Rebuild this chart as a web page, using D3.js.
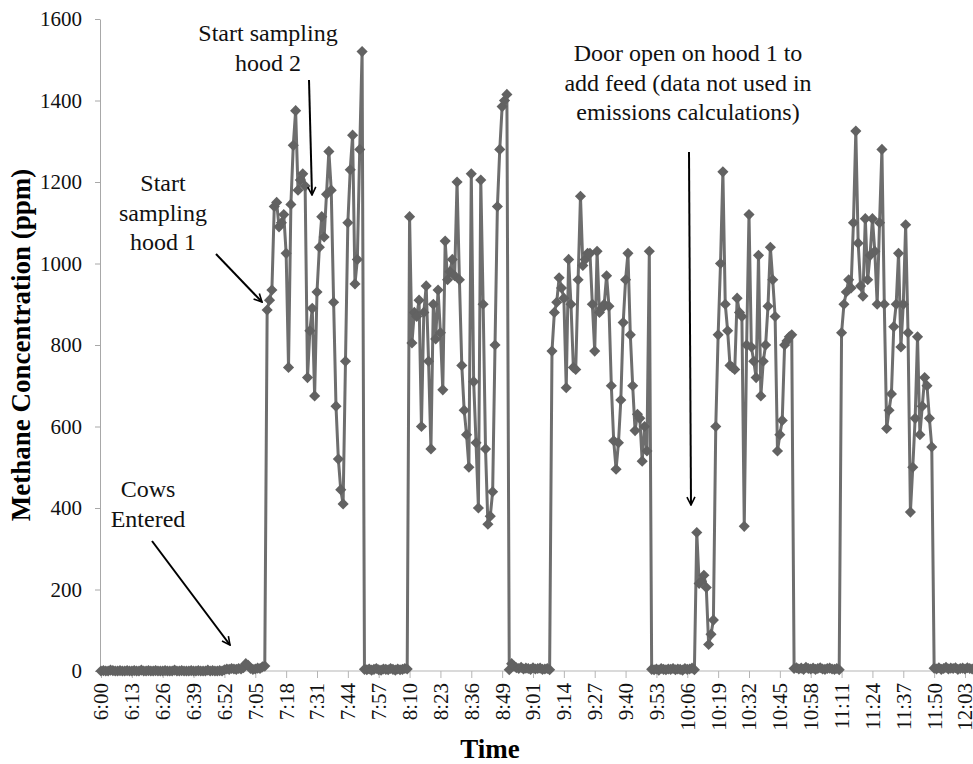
<!DOCTYPE html>
<html>
<head>
<meta charset="utf-8">
<script src="https://cdn.jsdelivr.net/npm/d3@7"></script>
<style>
  body { margin: 0; background: #fff; }
  svg { display: block; font-family: "Liberation Serif", "Times New Roman", serif; }
  svg text { font-family: "Liberation Serif", "Times New Roman", serif !important; }
</style>
</head>
<body>
<svg id="chart" width="973" height="764"></svg>
<script>
// tick labels, one every 13 readings (one minute is missing between 8:49 and 9:01)
const tickLabels = ['6:00', '6:13', '6:26', '6:39', '6:52', '7:05', '7:18', '7:31', '7:44', '7:57',
  '8:10', '8:23', '8:36', '8:49', '9:01', '9:14', '9:27', '9:40', '9:53', '10:06', '10:19',
  '10:32', '10:45', '10:58', '11:11', '11:24', '11:37', '11:50', '12:03'];
const tickEvery = 13;

// methane readings (ppm), one per minute, in the order they were taken
const beforeCows = [0, 1, 0, 0, 2, 1, 0, 0, 1, 0, 0, 1, 0, 0, 1, 0, 0, 2, 0, 0,
  1, 0, 0, 1, 0, 0, 0, 1, 0, 0, 0, 2, 0, 0, 1, 0, 0, 0, 1, 0,
  0, 1, 0, 0, 0, 2, 0, 1, 0, 0, 1, 0, 3, 5, 4, 6, 5, 4, 6, 5,
  8, 18, 14, 6, 4, 5, 7, 6, 10, 12];
const hood1a = [886, 910, 935, 1140, 1150, 1090, 1100, 1120, 1025, 745, 1145, 1290, 1375, 1180,
  1205, 1220, 1190, 720, 835, 890, 675, 930, 1040, 1115, 1065, 1170, 1275, 1180, 905, 650,
  520, 445, 410, 760, 1100, 1230, 1315, 950, 1010, 1280, 1520];
const gap1 = [4, 3, 5, 2, 4, 6, 3, 2, 5, 4, 3, 6, 4, 2, 5, 3, 4, 6, 5];
const hood2a = [1115, 805, 880, 870, 910, 600, 880, 945, 760, 545, 900, 815, 935, 830, 690, 1055,
  960, 980, 1010, 970, 1200, 960, 750, 640, 580, 500, 1220, 710, 560, 400, 1205, 900, 545,
  360, 380, 440, 800, 1140, 1280, 1385, 1400, 1415];
const gap2 = [3, 18, 12, 8, 6, 9, 5, 7, 6, 4, 8, 5, 6, 7, 4, 5, 6, 3];
const hood1b = [785, 880, 905, 965, 940, 915, 695, 1010, 900, 745, 740, 960, 1165, 995, 1010, 1025,
  1025, 900, 785, 1030, 880, 890, 900, 970, 895, 700, 565, 495, 560, 665, 855, 960, 1025,
  825, 700, 590, 630, 620, 515, 600, 540, 1030];
const gap3 = [4, 3, 5, 2, 6, 4, 3, 5, 4, 6, 3, 5, 4, 2, 6, 4, 5, 7, 3];
const doorOpen = [340, 215, 220, 235, 205, 65, 90, 125, 600, 825, 1000, 1225, 900, 835, 750, 745,
  740, 915, 880, 870, 355, 800, 1120, 795, 760, 720, 1020, 675, 760, 800, 895, 1040, 960,
  870, 540, 580, 615, 800, 810, 820, 825];
const gap4 = [6, 8, 5, 7, 4, 9, 6, 5, 7, 4, 6, 8, 5, 4, 6, 7, 5, 4, 6, 3];
const hood2b = [830, 900, 930, 960, 940, 1100, 1325, 1050, 945, 920, 1110, 960, 1020, 1110, 1030,
  900, 1100, 1280, 900, 595, 640, 680, 845, 900, 1025, 795, 900, 1095, 830, 390, 500, 620,
  820, 580, 650, 720, 700, 620, 550];
const afterHoods = [7, 5, 8, 4, 6, 9, 5, 7, 6, 8, 4, 6, 7, 5, 8, 6, 5, 7];

const methane = [].concat(beforeCows, hood1a, gap1, hood2a, gap2, hood1b, gap3,
  doorOpen, gap4, hood2b, afterHoods);

const yTicks = [0, 200, 400, 600, 800, 1000, 1200, 1400, 1600];

const notes = [
  {lines: ['Start sampling', 'hood 2'], x: 268, y: 41, from: [309, 80], to: [312, 195]},
  {lines: ['Start', 'sampling', 'hood 1'], x: 163, y: 191, from: [216, 254], to: [262, 302]},
  {lines: ['Cows', 'Entered'], x: 148, y: 497, from: [152, 541], to: [230, 645]},
  {lines: ['Door open on hood 1 to', 'add feed (data not used in', 'emissions calculations)'],
    x: 688, y: 61, from: [689, 152], to: [691, 505]}
];

const serif = '"Liberation Serif", "Times New Roman", serif';
const svg = d3.select('#chart');

const x = d3.scaleLinear()
  .domain([0, tickEvery * (tickLabels.length - 1)])
  .range([101, 965]);
const y = d3.scaleLinear().domain([0, 1600]).range([671, 19]);

// y axis
const yAxis = svg.append('g')
  .attr('transform', 'translate(100,0)')
  .call(d3.axisLeft(y)
    .tickValues(yTicks)
    .tickFormat(d3.format('d'))
    .tickSize(5)
    .tickPadding(13)
    .tickSizeOuter(0))
  .attr('font-family', serif)
  .attr('font-size', 21);
yAxis.selectAll('path, line').attr('stroke', '#a8a8a8');
yAxis.selectAll('text').attr('fill', '#111');

// x axis, stretched to the right edge
const xAxis = svg.append('g')
  .attr('transform', 'translate(0,671)')
  .call(d3.axisBottom(x)
    .tickValues(d3.range(0, methane.length, tickEvery).filter((d, i) => i < tickLabels.length))
    .tickFormat((d, i) => tickLabels[i])
    .tickSize(7)
    .tickSizeOuter(0))
  .attr('font-family', serif)
  .attr('font-size', 21);
xAxis.select('.domain').remove();
xAxis.insert('line', ':first-child')
  .attr('x1', 100).attr('x2', 973)
  .attr('stroke', '#b5b5b5');
xAxis.selectAll('.tick line').attr('stroke', '#b5b5b5');
xAxis.selectAll('text')
  .attr('fill', '#111')
  .attr('text-anchor', 'end')
  .attr('transform', 'rotate(-90)')
  .attr('x', -12)
  .attr('y', 0)
  .attr('dy', '0.33em');

// series
const line = d3.line()
  .x((d, i) => x(i))
  .y(d => y(d));

svg.append('path')
  .datum(methane)
  .attr('fill', 'none')
  .attr('stroke', '#6e6e6e')
  .attr('stroke-width', 3)
  .attr('stroke-linejoin', 'round')
  .attr('d', line);

const diamond = d3.symbol().type(d3.symbolSquare).size(62);
svg.append('g')
  .selectAll('path')
  .data(methane)
  .join('path')
    .attr('d', diamond)
    .attr('fill', '#626262')
    .attr('transform', (d, i) => `translate(${x(i)},${y(d)}) rotate(45)`);

// axis titles
svg.append('text')
  .attr('transform', 'translate(30,345) rotate(-90)')
  .attr('text-anchor', 'middle')
  .attr('font-family', serif)
  .attr('font-size', 27)
  .attr('font-weight', 'bold')
  .text('Methane Concentration (ppm)');

svg.append('text')
  .attr('x', 490)
  .attr('y', 758)
  .attr('text-anchor', 'middle')
  .attr('font-family', serif)
  .attr('font-size', 27)
  .attr('font-weight', 'bold')
  .text('Time');

// annotations
svg.append('defs').append('marker')
  .attr('id', 'head')
  .attr('viewBox', '0 0 10 10')
  .attr('refX', 9).attr('refY', 5)
  .attr('markerWidth', 10).attr('markerHeight', 10)
  .attr('markerUnits', 'userSpaceOnUse')
  .attr('orient', 'auto')
  .append('path')
    .attr('d', 'M1,1 L9,5 L1,9')
    .attr('fill', 'none')
    .attr('stroke', '#000')
    .attr('stroke-width', 1.6);

const note = svg.append('g').selectAll('g')
  .data(notes)
  .join('g');

note.append('text')
  .attr('text-anchor', 'middle')
  .attr('font-family', serif)
  .attr('font-size', 24)
  .attr('fill', '#111')
  .selectAll('tspan')
  .data(d => d.lines.map((t, i) => ({t, x: d.x, y: d.y + i * 29.5})))
  .join('tspan')
    .attr('x', d => d.x)
    .attr('y', d => d.y)
    .text(d => d.t);

note.append('line')
  .attr('x1', d => d.from[0]).attr('y1', d => d.from[1])
  .attr('x2', d => d.to[0]).attr('y2', d => d.to[1])
  .attr('stroke', '#000')
  .attr('stroke-width', 2)
  .attr('marker-end', 'url(#head)');
</script>
</body>
</html>
